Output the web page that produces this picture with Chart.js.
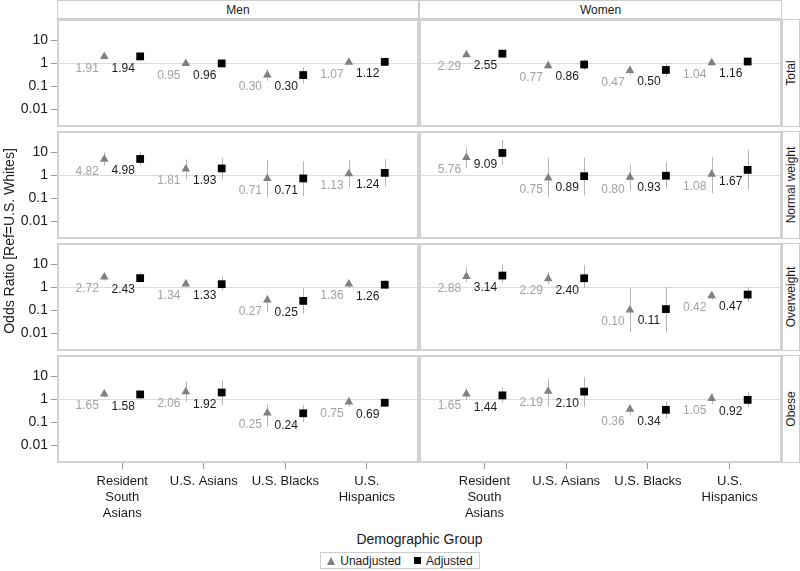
<!DOCTYPE html>
<html>
<head>
<meta charset="utf-8">
<title>Odds ratios by demographic group</title>
<script src="https://cdn.jsdelivr.net/npm/chart.js@4.4.1/dist/chart.umd.min.js"></script>
<style>
  body { margin: 0; background: #fff; font-family: "Liberation Sans", Arial, sans-serif; }
  #page { position: relative; width: 800px; height: 571px; overflow: hidden; }
  #page canvas { position: absolute; }
  .strip {
    position: absolute; box-sizing: border-box; border: 1px solid #cdcdcd;
    background: #fff; color: #1a1a1a; font-size: 12px;
    display: flex; align-items: center; justify-content: center;
  }
  .strip.side span { transform: rotate(-90deg); white-space: nowrap; }
  .title { position: absolute; color: #1a1a1a; font-size: 14px; text-align: center; white-space: nowrap; }
  #legend {
    position: absolute; left: 320px; top: 552px; width: 160px; height: 17px; box-sizing: border-box;
    border: 1px solid #cdcdcd; font-size: 12px; color: #1a1a1a;
    display: flex; align-items: center; justify-content: center; gap: 5px;
  }
  .tri { width: 0; height: 0; border-left: 4px solid transparent; border-right: 4px solid transparent; border-bottom: 8px solid #808080; }
  .sq { width: 7px; height: 7px; background: #000; margin-left: 8px; }
</style>
</head>
<body>
<div id="page"></div>
<script>
// ========================
// DATOS
// ========================
const groups = [['Resident', 'South', 'Asians'], ['U.S. Asians'], ['U.S. Blacks'], ['U.S.', 'Hispanics']];
const sexes = ['Men', 'Women'];
const bmiClasses = ['Total', 'Normal weight', 'Overweight', 'Obese'];
const yTicks = [0.01, 0.1, 1, 10];
const yTickLabels = ['0.01', '0.1', '1', '10'];

// odds ratios: one row per BMI class, columns in the order of groups
const menUnadj = [
  [1.91, 0.95, 0.30, 1.07],
  [4.82, 1.81, 0.71, 1.13],
  [2.72, 1.34, 0.27, 1.36],
  [1.65, 2.06, 0.25, 0.75]
];
const menAdj = [
  [1.94, 0.96, 0.30, 1.12],
  [4.98, 1.93, 0.71, 1.24],
  [2.43, 1.33, 0.25, 1.26],
  [1.58, 1.92, 0.24, 0.69]
];
const womenUnadj = [
  [2.29, 0.77, 0.47, 1.04],
  [5.76, 0.75, 0.80, 1.08],
  [2.88, 2.29, 0.10, 0.42],
  [1.65, 2.19, 0.36, 1.05]
];
const womenAdj = [
  [2.55, 0.86, 0.50, 1.16],
  [9.09, 0.89, 0.93, 1.67],
  [3.14, 2.40, 0.11, 0.47],
  [1.44, 2.10, 0.34, 0.92]
];

// 95% CI
const menUnadjLo = [[1.6, 0.8, 0.17, 0.9], [2.6, 0.65, 0.11, 0.28], [1.9, 0.85, 0.08, 0.9], [1.15, 0.75, 0.06, 0.45]];
const menUnadjHi = [[2.3, 1.15, 0.52, 1.28], [9.5, 4.8, 4.5, 4.5], [3.9, 2.1, 0.45, 2.0], [2.4, 5.8, 0.6, 1.2]];
const menAdjLo = [[1.5, 0.75, 0.13, 0.9], [2.5, 0.65, 0.12, 0.32], [1.6, 0.7, 0.07, 0.85], [1.05, 0.55, 0.1, 0.5]];
const menAdjHi = [[2.5, 1.25, 0.65, 1.4], [10, 5.5, 4.0, 5.0], [4.2, 2.9, 0.9, 2.0], [2.3, 6.5, 0.55, 1.1]];
const womenUnadjLo = [[1.9, 0.55, 0.3, 0.85], [2.0, 0.11, 0.22, 0.16], [1.6, 1.3, 0.011, 0.27], [0.9, 0.45, 0.2, 0.6]];
const womenUnadjHi = [[2.8, 1.1, 0.75, 1.3], [16, 5.5, 2.8, 6.0], [7.5, 4.5, 0.9, 0.6], [3.0, 7.5, 0.6, 1.7]];
const womenAdjLo = [[1.8, 0.5, 0.25, 0.8], [2.7, 0.13, 0.27, 0.22], [1.5, 0.9, 0.011, 0.22], [0.7, 0.45, 0.14, 0.45]];
const womenAdjHi = [[3.6, 1.5, 1.0, 1.7], [33, 5.5, 3.7, 12], [9.0, 9.0, 1.0, 1.0], [3.3, 9.0, 0.75, 2.0]];

// ========================
// GEOMETRIA
// ========================
const PANEL_X = [57, 419];
const PANEL_W = [362, 363];
const ROW_TOP = [19, 131, 243, 355];
const PANEL_H = 108;
const Y_AXIS_W = 57;
const X_AXIS_H = 66;
const DODGE = 0.22;
const X_MIN = 0.2, X_MAX = 4.64;
const Y_MIN = 0.00166, Y_MAX = 81.8;

const page = document.getElementById('page');

// error bars, panel frame and value labels
const panelExtras = {
  id: 'panelExtras',
  beforeDatasetsDraw(chart) {
    const { ctx, scales: { y } } = chart;
    ctx.save();
    ctx.strokeStyle = '#b5b5b5';
    ctx.lineWidth = 1;
    chart.data.datasets.forEach((ds, di) => {
      chart.getDatasetMeta(di).data.forEach((pt, i) => {
        const x = Math.round(pt.x) + 0.5;
        ctx.beginPath();
        ctx.moveTo(x, y.getPixelForValue(ds.lo[i]));
        ctx.lineTo(x, y.getPixelForValue(ds.hi[i]));
        ctx.stroke();
      });
    });
    ctx.restore();
  },
  afterDatasetsDraw(chart) {
    const { ctx } = chart;
    ctx.save();
    ctx.font = '12px "Liberation Sans", Arial, sans-serif';
    ctx.textAlign = 'center';
    ctx.textBaseline = 'middle';
    chart.data.datasets.forEach((ds, di) => {
      ctx.fillStyle = ds.labelColor;
      chart.getDatasetMeta(di).data.forEach((pt, i) => {
        ctx.fillText(ds.data[i].y.toFixed(2), pt.x - 17, pt.y + 12);
      });
    });
    ctx.restore();
  },
  afterDraw(chart) {
    const { ctx, chartArea: a } = chart;
    ctx.save();
    ctx.strokeStyle = '#d2d2d2';
    ctx.lineWidth = 2;
    ctx.strokeRect(a.left + 1, a.top + 1, a.right - a.left - 2, a.bottom - a.top - 2);
    ctx.restore();
  }
};

function toPoints(values, shift) {
  return values.map((v, i) => ({ x: i + 1 + shift, y: v }));
}

function makePanel(s, r) {
  const isLeft = s === 0;
  const isBottom = r === bmiClasses.length - 1;
  const unadj = s === 0 ? menUnadj : womenUnadj;
  const adj = s === 0 ? menAdj : womenAdj;
  const uLo = s === 0 ? menUnadjLo : womenUnadjLo;
  const uHi = s === 0 ? menUnadjHi : womenUnadjHi;
  const aLo = s === 0 ? menAdjLo : womenAdjLo;
  const aHi = s === 0 ? menAdjHi : womenAdjHi;

  const left = isLeft ? 0 : PANEL_X[s];
  const width = PANEL_W[s] + (isLeft ? Y_AXIS_W : 0);
  const height = PANEL_H + (isBottom ? X_AXIS_H : 0);

  const canvas = document.createElement('canvas');
  canvas.width = width;
  canvas.height = height;
  canvas.style.left = left + 'px';
  canvas.style.top = ROW_TOP[r] + 'px';
  page.appendChild(canvas);

  new Chart(canvas.getContext('2d'), {
    type: 'scatter',
    data: {
      datasets: [
        {
          label: 'Unadjusted',
          data: toPoints(unadj[r], -DODGE),
          lo: uLo[r], hi: uHi[r],
          pointStyle: 'triangle', pointRadius: 5,
          backgroundColor: '#808080', borderColor: '#808080', borderWidth: 0,
          labelColor: '#a3a3a3'
        },
        {
          label: 'Adjusted',
          data: toPoints(adj[r], DODGE),
          lo: aLo[r], hi: aHi[r],
          pointStyle: 'rect', pointRadius: 5.5,
          backgroundColor: '#000', borderColor: '#000', borderWidth: 0,
          labelColor: '#1a1a1a'
        }
      ]
    },
    options: {
      responsive: false,
      animation: false,
      events: [],
      layout: { padding: 0, autoPadding: false },
      plugins: { legend: { display: false }, tooltip: { enabled: false } },
      scales: {
        x: {
          type: 'linear',
          min: X_MIN, max: X_MAX,
          display: isBottom,
          border: { display: false },
          grid: { drawOnChartArea: false, drawTicks: true, tickLength: 6, tickColor: '#9a9a9a' },
          afterBuildTicks: (sc) => { sc.ticks = groups.map((g, i) => ({ value: i + 1 })); },
          afterFit: (sc) => { sc.height = isBottom ? X_AXIS_H : 0; sc.paddingLeft = 0; sc.paddingRight = 0; },
          ticks: {
            autoSkip: false, maxRotation: 0, minRotation: 0, padding: 4,
            color: '#1a1a1a', font: { size: 13, family: '"Liberation Sans", Arial, sans-serif', lineHeight: 1.25 },
            callback: (v) => groups[v - 1]
          }
        },
        y: {
          type: 'logarithmic',
          min: Y_MIN, max: Y_MAX,
          border: { display: false },
          grid: {
            drawTicks: isLeft, tickLength: 6, tickColor: '#9a9a9a',
            color: (c) => (c.tick && c.tick.value === 1 ? '#dcdcdc' : 'rgba(0,0,0,0)')
          },
          afterBuildTicks: (sc) => { sc.ticks = yTicks.map((v) => ({ value: v })); },
          afterFit: (sc) => { sc.width = isLeft ? Y_AXIS_W : 0; sc.paddingTop = 0; sc.paddingBottom = 0; },
          ticks: {
            display: isLeft, padding: 3,
            color: '#1a1a1a', font: { size: 14, family: '"Liberation Sans", Arial, sans-serif' },
            callback: (v, i) => yTickLabels[i]
          }
        }
      }
    },
    plugins: [panelExtras]
  });
}

// ========================
// ETIQUETAS DE FACETAS
// ========================
sexes.forEach((name, s) => {
  const d = document.createElement('div');
  d.className = 'strip';
  d.style.cssText = `left:${PANEL_X[s]}px;top:0;width:${PANEL_W[s]}px;height:19px;`;
  d.textContent = name;
  page.appendChild(d);
});

bmiClasses.forEach((name, r) => {
  const d = document.createElement('div');
  d.className = 'strip side';
  d.style.cssText = `left:782px;top:${ROW_TOP[r]}px;width:18px;height:${PANEL_H}px;`;
  const span = document.createElement('span');
  span.textContent = name;
  d.appendChild(span);
  page.appendChild(d);
});

// ========================
// PANELES
// ========================
bmiClasses.forEach((_, r) => sexes.forEach((_, s) => makePanel(s, r)));

// ========================
// TITULOS Y LEYENDA
// ========================
const yTitle = document.createElement('div');
yTitle.className = 'title';
const spanH = ROW_TOP[3] + PANEL_H - ROW_TOP[0];
const midY = ROW_TOP[0] + spanH / 2;
yTitle.style.cssText = `left:${9 - spanH / 2}px;top:${midY - 9}px;width:${spanH}px;height:18px;line-height:18px;transform:rotate(-90deg);`;
yTitle.textContent = 'Odds Ratio [Ref=U.S. Whites]';
page.appendChild(yTitle);

const xTitle = document.createElement('div');
xTitle.className = 'title';
xTitle.style.cssText = `left:${PANEL_X[0]}px;top:531px;width:${PANEL_W[0] + PANEL_W[1]}px;`;
xTitle.textContent = 'Demographic Group';
page.appendChild(xTitle);

const legend = document.createElement('div');
legend.id = 'legend';
legend.innerHTML = '<span class="tri"></span><span>Unadjusted</span><span class="sq"></span><span>Adjusted</span>';
page.appendChild(legend);
</script>
</body>
</html>
